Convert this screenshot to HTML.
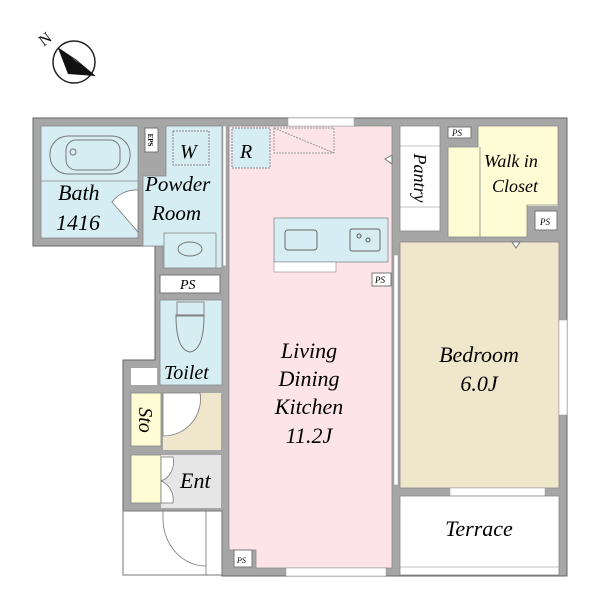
<!DOCTYPE html>
<html><head><meta charset="utf-8"><style>
body{margin:0;background:#fff}
svg text{font-family:"Liberation Serif",serif;font-style:italic}
</style></head><body>
<svg width="600" height="600" viewBox="0 0 600 600" xmlns="http://www.w3.org/2000/svg">
<!-- compass -->
<circle cx="74" cy="62" r="21" fill="#fff" stroke="#222" stroke-width="1.5"/>
<polygon points="58,48 95,76 68,74" fill="#111"/>
<polygon points="58,48 95,76 76,60" fill="#fff" stroke="#111" stroke-width="1"/>
<text x="40" y="44" font-size="16" transform="rotate(-37 46 40)" style="font-style:normal">N</text>

<!-- footprint walls -->
<polygon points="33,118 567,118 567,576 222,576 222,511 123,511 123,360 155,360 155,246 33,246" fill="#a6a6a6" stroke="#666" stroke-width="1"/>
<!-- porch -->
<rect x="123" y="511" width="99" height="64" fill="#fff" stroke="#777"/>
<path d="M163,511 v8 a43,47 0 0 0 43,47" fill="none" stroke="#777" stroke-width="0.8"/>
<line x1="206" y1="511" x2="206" y2="575" stroke="#777" stroke-width="0.8"/>

<!-- bath -->
<rect x="41" y="126" width="97" height="112" fill="#d6eef3" stroke="#888" stroke-width="0.8"/>
<line x1="41" y1="181" x2="138" y2="181" stroke="#888" stroke-width="0.8"/>
<rect x="50" y="136" width="80" height="38" rx="18" fill="none" stroke="#777"/>
<rect x="66" y="140" width="54" height="30" rx="10" fill="none" stroke="#777"/>
<circle cx="73" cy="152" r="3" fill="none" stroke="#777"/>
<path d="M138,190 a30,30 0 0 0 -26,12 L138,232 Z" fill="#fff" stroke="#777" stroke-width="0.8"/>
<text x="58" y="200" font-size="22">Bath</text>
<text x="56" y="230" font-size="22">1416</text>

<!-- EPS -->
<rect x="145" y="128" width="13" height="24" fill="#fff" stroke="#777"/>
<text x="151" y="143" font-size="7" text-anchor="middle" transform="rotate(90 151 140)" style="font-style:normal" font-weight="bold">EPS</text>

<!-- powder -->
<polygon points="166,126 222,126 222,268 163,268 163,246 143,246 143,176 166,176" fill="#d6eef3" stroke="#888" stroke-width="0.8"/>
<rect x="173" y="131" width="36" height="34" fill="none" stroke="#888" stroke-dasharray="2,1"/>
<text x="180" y="158" font-size="20">W</text>
<text x="145" y="191" font-size="21">Powder</text>
<text x="152" y="220" font-size="21">Room</text>
<rect x="164" y="233" width="52" height="35" fill="#d6eef3" stroke="#888" stroke-width="0.8"/>
<ellipse cx="190" cy="249" rx="12" ry="7" fill="none" stroke="#777"/>
<rect x="223" y="126" width="3" height="140" fill="#fff" stroke="#999" stroke-width="0.5"/>

<!-- PS -->
<rect x="160" y="275" width="60" height="18" fill="#fff" stroke="#777"/>
<text x="180" y="289" font-size="14">PS</text>

<!-- toilet -->
<rect x="160" y="300" width="62" height="85" fill="#d6eef3" stroke="#888" stroke-width="0.8"/>
<rect x="177" y="302" width="27" height="14" fill="none" stroke="#888"/>
<path d="M176,315 Q176,350 190,352 Q204,350 204,315 Z" fill="none" stroke="#777"/>
<text x="164" y="379" font-size="20">Toilet</text>
<rect x="131" y="368" width="26" height="17" fill="#fff"/>

<!-- Sto -->
<rect x="131" y="393" width="30" height="53" fill="#fefcd4" stroke="#888" stroke-width="0.8"/>
<text x="146" y="427" font-size="20" text-anchor="middle" transform="rotate(90 146 420)">Sto</text>
<rect x="163" y="393" width="58" height="57" fill="#f0e6cc"/>
<path d="M163,393 h37 a37,37 0 0 1 -37,43 Z" fill="#fff" stroke="#777" stroke-width="0.8"/>

<!-- Ent -->
<rect x="131" y="455" width="30" height="48" fill="#fefcd4" stroke="#888" stroke-width="0.8"/>
<rect x="161" y="455" width="60" height="53" fill="#e6e6e6"/>
<path d="M161,457 h12 a18,20 0 0 1 -12,24 Z M161,481 a18,20 0 0 1 12,22 h-12 Z" fill="#fff" stroke="#777" stroke-width="0.8"/>
<text x="180" y="488" font-size="22">Ent</text>

<!-- LDK -->
<polygon points="229,126 392,126 392,568 256,568 256,550 229,550" fill="#fde4e8" stroke="#888" stroke-width="0.8"/>
<rect x="234" y="550" width="18" height="17" fill="#fff" stroke="#777"/>
<text x="237" y="563" font-size="8">PS</text>
<rect x="286" y="568" width="100" height="8" fill="#fff" stroke="#999" stroke-width="0.5"/>
<rect x="288" y="118" width="66" height="8" fill="#fff" stroke="#999" stroke-width="0.5"/>
<rect x="232" y="128" width="38" height="40" fill="#d6eef3" stroke="#888" stroke-dasharray="2,1"/>
<text x="240" y="158" font-size="20">R</text>
<path d="M274,128 h60 v25 h-60 Z M274,128 L334,153" fill="none" stroke="#999" stroke-dasharray="2,1"/>
<polygon points="392,155 385,159 392,164" fill="#fff" stroke="#777"/>
<rect x="274" y="218" width="114" height="44" fill="#d6eef3" stroke="#888" stroke-width="0.8"/>
<rect x="274" y="262" width="62" height="10" fill="#fff" stroke="#888" stroke-width="0.6"/>
<rect x="285" y="230" width="32" height="20" rx="3" fill="none" stroke="#666"/>
<rect x="350" y="229" width="30" height="22" rx="2" fill="none" stroke="#666"/>
<circle cx="359" cy="236" r="2" fill="none" stroke="#555"/>
<circle cx="368" cy="240" r="2" fill="none" stroke="#555"/>
<rect x="372" y="273" width="19" height="13" fill="#fff" stroke="#777"/>
<text x="375" y="283" font-size="9">PS</text>
<text x="309" y="358" font-size="22" text-anchor="middle">Living</text>
<text x="309" y="386" font-size="22" text-anchor="middle">Dining</text>
<text x="309" y="414" font-size="22" text-anchor="middle">Kitchen</text>
<text x="309" y="443" font-size="22" text-anchor="middle">11.2J</text>

<!-- pantry -->
<rect x="400" y="126" width="40" height="105" fill="#fff" stroke="#888" stroke-width="0.8"/>
<line x1="400" y1="146" x2="440" y2="146" stroke="#888" stroke-width="0.6"/>
<line x1="400" y1="207" x2="440" y2="207" stroke="#888" stroke-width="0.6"/>
<text x="420" y="184" font-size="18" text-anchor="middle" transform="rotate(90 420 178)">Pantry</text>

<!-- PS top -->
<rect x="448" y="127" width="23" height="11" fill="#fff" stroke="#777"/>
<text x="452" y="136" font-size="9">PS</text>

<!-- WIC -->
<rect x="478" y="126" width="80" height="80" fill="#fefcd4"/>
<rect x="448" y="147" width="79" height="90" fill="#fefcd4"/>
<path d="M478,126 h80 v79 h-31 v32 h-79 v-90 h30 Z" fill="none" stroke="#888" stroke-width="0.8"/>
<line x1="480" y1="147" x2="480" y2="237" stroke="#888" stroke-width="0.8"/>
<text x="484" y="167" font-size="18">Walk in</text>
<text x="492" y="192" font-size="18">Closet</text>
<rect x="535" y="211" width="22" height="19" fill="#fff" stroke="#777"/>
<text x="540" y="225" font-size="9">PS</text>

<!-- bedroom -->
<rect x="400" y="242" width="159" height="246" fill="#f0e6cc" stroke="#888" stroke-width="0.8"/>
<polygon points="512,242 520,242 516,248" fill="#fff" stroke="#777"/>
<rect x="394" y="255" width="4" height="230" fill="#fff" stroke="#999" stroke-width="0.5"/>
<rect x="559" y="320" width="8" height="95" fill="#fff" stroke="#999" stroke-width="0.5"/>
<rect x="450" y="488" width="95" height="8" fill="#fff" stroke="#999" stroke-width="0.5"/>
<text x="479" y="362" font-size="22" text-anchor="middle">Bedroom</text>
<text x="479" y="391" font-size="22" text-anchor="middle">6.0J</text>

<!-- terrace -->
<rect x="400" y="496" width="159" height="79" fill="#fff" stroke="#888" stroke-width="0.8"/>
<line x1="400" y1="567" x2="559" y2="567" stroke="#888" stroke-width="0.6"/>
<text x="479" y="536" font-size="22" text-anchor="middle">Terrace</text>
</svg>
</body></html>
